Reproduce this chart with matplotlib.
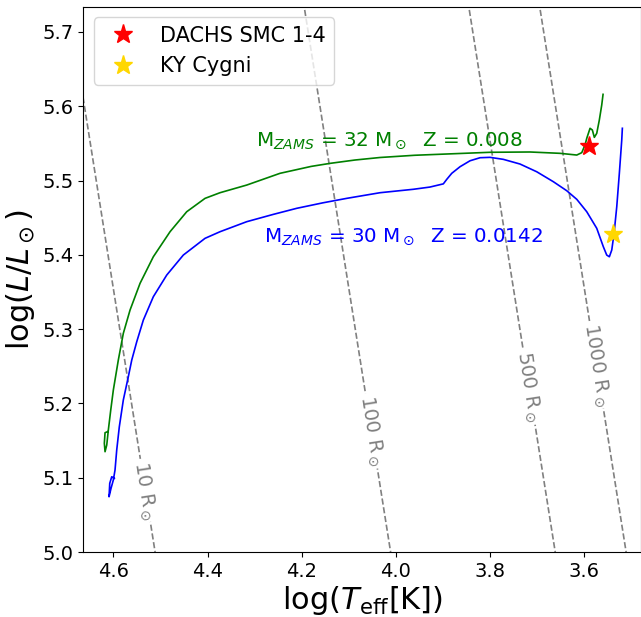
import numpy as np
import matplotlib.pyplot as plt

# evolutionary tracks, log Teff and log L
teff_32 = [4.6127, 4.6176, 4.6191, 4.6176, 4.6140, 4.6106, 4.6055, 4.6000, 4.5894, 4.5788,
           4.5645, 4.5433, 4.5151, 4.4796, 4.4442, 4.4053, 4.3735, 4.3168, 4.2461, 4.1800,
           4.1399, 4.0870, 4.0338, 3.9600, 3.8921, 3.8002, 3.7153, 3.6516, 3.6161, 3.6055,
           3.5985, 3.5949, 3.5879, 3.5830, 3.5788, 3.5737, 3.5682, 3.5631, 3.5603]
lum_32 = [5.1619, 5.1606, 5.1463, 5.1350, 5.1440, 5.1642, 5.1911, 5.2180, 5.2584, 5.2943,
          5.3257, 5.3616, 5.3974, 5.4311, 5.4580, 5.4760, 5.4836, 5.4939, 5.5097, 5.5190,
          5.5231, 5.5276, 5.5310, 5.5340, 5.5357, 5.5380, 5.5384, 5.5366, 5.5343, 5.5375,
          5.5480, 5.5568, 5.5703, 5.5680, 5.5581, 5.5635, 5.5814, 5.6016, 5.6160]

teff_30 = [4.5979, 4.6034, 4.6076, 4.6091, 4.6049, 4.6000, 4.5964, 4.5928, 4.5873, 4.5788,
           4.5682, 4.5609, 4.5503, 4.5363, 4.5151, 4.4866, 4.4514, 4.4053, 4.3735, 4.3168,
           4.2600, 4.2106, 4.1550, 4.1045, 4.0338, 3.9631, 3.9280, 3.8994, 3.8921, 3.8815,
           3.8639, 3.8427, 3.8214, 3.8002, 3.7720, 3.7366, 3.7011, 3.6658, 3.6374, 3.6161,
           3.5949, 3.5737, 3.5597, 3.5525, 3.5469, 3.5418, 3.5369, 3.5312, 3.5257, 3.5206,
           3.5193]
lum_30 = [5.0992, 5.1013, 5.0925, 5.0744, 5.0857, 5.0969, 5.1104, 5.1373, 5.1686, 5.2046,
          5.2359, 5.2584, 5.2830, 5.3122, 5.3436, 5.3728, 5.3997, 5.4222, 5.4311, 5.4446,
          5.4545, 5.4626, 5.4700, 5.4760, 5.4836, 5.4882, 5.4912, 5.4955, 5.5016, 5.5097,
          5.5186, 5.5266, 5.5307, 5.5312, 5.5285, 5.5222, 5.5118, 5.4984, 5.4863, 5.4747,
          5.4580, 5.4357, 5.4109, 5.3997, 5.3974, 5.4065, 5.4289, 5.4647, 5.5097, 5.5545,
          5.5703]

# observed stars
star_names = ['DACHS SMC 1-4', 'KY Cygni']
star_teff = [3.590, 3.539]
star_lum = [5.547, 5.428]
star_colors = ['red', 'gold']

# lines of constant radius
radii = [10, 100, 500, 1000]
radius_label_lum = [5.083, 5.163, 5.222, 5.252]
log_teff_sun = np.log10(5772)


def teff_at(lum, r):
    # Stefan-Boltzmann: log L = 2 log R + 4 (log T - log Tsun)
    return log_teff_sun + (lum - 2 * np.log10(r)) / 4


fig = plt.figure(figsize=(6.41, 6.17), dpi=100)
ax = fig.add_axes([0.130, 0.1053, 0.8698, 0.8833])

for r, ly in zip(radii, radius_label_lum):
    lums = np.array([4.9, 5.8])
    ax.plot(teff_at(lums, r), lums, ls='--', color='gray', lw=1.2, zorder=1)
    ax.text(teff_at(ly, r), ly, r'{} R$_\odot$'.format(r), color='gray', fontsize=14,
            rotation=np.degrees(np.arctan2(-4, -1)), transform_rotates_text=True,
            rotation_mode='anchor', ha='center', va='center', zorder=2,
            bbox=dict(facecolor='white', edgecolor='none', pad=1.5))

ax.plot(teff_32, lum_32, color='green', lw=1.2, zorder=3)
ax.plot(teff_30, lum_30, color='blue', lw=1.2, zorder=3)

for name, t, l, c in zip(star_names, star_teff, star_lum, star_colors):
    ax.plot(t, l, '*', color=c, ms=14, ls='none', label=name, zorder=4)

ax.text(4.297, 5.5468, r'M$_{ZAMS}$ = 32 M$_\odot$  Z = 0.008', color='green', fontsize=14.3,
        ha='left', va='baseline')
ax.text(4.2794, 5.4176, r'M$_{ZAMS}$ = 30 M$_\odot$  Z = 0.0142', color='blue', fontsize=14.3,
        ha='left', va='baseline')

ax.set_xlim(4.6637, 3.48)
ax.set_ylim(5.0, 5.7335)
ax.tick_params(labelsize=14)
ax.set_xlabel(r'$\log(T_{\rm eff}[{\rm K}])$', fontsize=22, labelpad=2)
ax.set_ylabel(r'$\log(L/L_\odot)$', fontsize=22)
ax.legend(loc='upper left', fontsize=15)

fig.savefig('out.png', dpi=100)
